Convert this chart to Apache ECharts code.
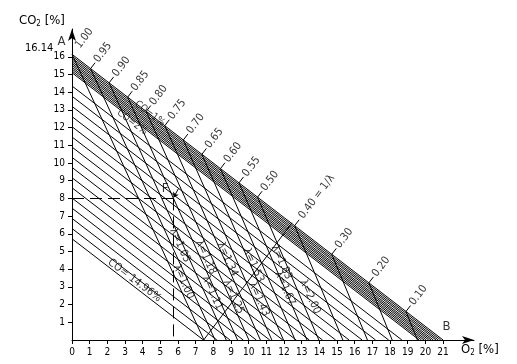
<!DOCTYPE html>
<html><head><meta charset="utf-8">
<script src="https://cdn.jsdelivr.net/npm/echarts@6/dist/echarts.min.js"></script>
<style>html,body{margin:0;padding:0;background:#fff}#c{width:517px;height:364px}</style>
</head><body><div id="c"></div>
<script>
// ---- data ----
const xTickValues = [0,1,2,3,4,5,6,7,8,9,10,11,12,13,14,15,16,17,18,19,20,21];
const yTickValues = [1,2,3,4,5,6,7,8,9,10,11,12,13,14,15,16];
const pointA = [0, 16.14];
const pointB = [21, 0];
// 1/lambda marks on line A-B
const invLambdaText = ['1.00','0.95','0.90','0.85','0.80','0.75','0.70','0.65','0.60','0.55','0.50','0.40 = 1/λ','0.30','0.20','0.10'];
const lamTopO2  = [0, 1.05, 2.10, 3.15, 4.20, 5.25, 6.30, 7.35, 8.40, 9.45, 10.50, 12.60, 14.70, 16.80, 18.90];
const lamTopCO2 = [16.14, 15.33, 14.53, 13.72, 12.91, 12.11, 11.30, 10.49, 9.68, 8.88, 8.07, 6.46, 4.84, 3.23, 1.61];
const lamBotO2  = [7.47, 8.10, 8.73, 9.37, 10.01, 10.66, 11.31, 11.97, 12.63, 13.30, 13.97, 15.33, 16.72, 18.12, 19.55];
// CO lines (parallel to A-B): intercepts on CO2 axis and O2 axis
const coY0 = [14.35,13.77,13.20,12.62,12.05,11.47,10.90,10.32,9.75,9.17,8.60,8.02,7.45,6.87,6.30,5.72];
const coX0 = [18.67,17.92,17.18,16.42,15.68,14.92,14.18,13.43,12.69,11.93,11.19,10.43,9.69,8.94,8.20,7.44];
// dense band just under A-B
const bandY0 = [16.04,15.93,15.83,15.72,15.62,15.52,15.41,15.31,15.20,15.10];
const bandX0 = [20.87,20.73,20.60,20.45,20.32,20.19,20.05,19.92,19.78,19.65];
// extra line crossing the lambda lines
const crossLine = [[7.45, 0], [12.45, 6.62]];
// example point F
const pointF = [5.72, 8];
// lambda labels
const lambdaText = ['λ=1.05','λ=1.00','λ=1.18','λ=1.11','λ=1.34','λ=1.25','λ=1.53','λ=1.43','λ=1.83','λ=1.67','λ=2.00'];
const lambdaLabelPos = [[6.11,5.35],[6.31,3.29],[7.58,4.67],[7.95,2.67],[8.80,4.56],[9.14,2.44],[10.27,4.22],[10.58,2.30],[11.86,4.39],[12.05,2.92],[13.47,2.44]];
const coLabelText = ['CO= 14.96%','CO=1%','CO=2%'];
const coLabelPos = [[3.54, 3.37],[4.40, 12.80],[3.40, 12.30]];

// ---- build ----
const segs = [];
segs.push({coords:[pointA, pointB]});
for (let i=0;i<coY0.length;i++) segs.push({coords:[[0,coY0[i]],[coX0[i],0]]});
for (let i=0;i<bandY0.length;i++) segs.push({coords:[[0,bandY0[i]],[bandX0[i],0]]});
for (let i=0;i<lamTopO2.length;i++) segs.push({coords:[[lamTopO2[i],lamTopCO2[i]],[lamBotO2[i],0]]});
segs.push({coords:crossLine});

const nx = 0.609, ny = 0.793;
const tickSegs = [];
const invLabels = [];
for (let i=0;i<lamTopO2.length;i++){
  const px = lamTopO2[i], py = lamTopCO2[i];
  if (i>0) tickSegs.push({coords:[[px,py],[px+nx*0.42,py+ny*0.42]]});
  const d = invLambdaText[i].length>5 ? 2.05 : 1.15;
  invLabels.push({name:invLambdaText[i], value:[px+nx*d, py+ny*d]});
}

const font = 'DejaVu Sans Condensed';
const chart = echarts.init(document.getElementById('c'), null, {renderer:'canvas'});
chart.setOption({
  animation:false,
  backgroundColor:'#fff',
  grid:{left:72, right:43, top:29, bottom:24},
  xAxis:{type:'value', min:0, max:22.75, interval:1,
    axisLine:{show:true, lineStyle:{color:'#000', width:1}, symbol:['none','arrow'], symbolSize:[6,12]},
    axisTick:{show:true, length:4, lineStyle:{color:'#000'}, customValues:xTickValues},
    axisLabel:{color:'#000', fontFamily:font, fontSize:10, margin:7, customValues:xTickValues},
    splitLine:{show:false}},
  yAxis:{type:'value', min:0, max:17.57, interval:1,
    axisLine:{show:true, lineStyle:{color:'#000', width:1}, symbol:['none','arrow'], symbolSize:[6,12]},
    axisTick:{show:true, length:4, lineStyle:{color:'#000'}, customValues:yTickValues},
    axisLabel:{color:'#000', fontFamily:font, fontSize:10, margin:7, customValues:yTickValues},
    splitLine:{show:false}},
  series:[
    {type:'lines', coordinateSystem:'cartesian2d', silent:true, z:2,
     lineStyle:{color:'#000', width:1, opacity:1}, data:segs},
    {type:'lines', coordinateSystem:'cartesian2d', silent:true, z:2,
     lineStyle:{color:'#000', width:1, opacity:1}, data:tickSegs},
    {type:'lines', coordinateSystem:'cartesian2d', silent:true, z:2,
     lineStyle:{color:'#000', width:1, type:[12,6], opacity:1},
     data:[{coords:[[0,pointF[1]],pointF]},{coords:[pointF,[pointF[0],0]]}]},
    {type:'lines', coordinateSystem:'cartesian2d', silent:true, z:2,
     symbol:['none','arrow'], symbolSize:5,
     lineStyle:{color:'#000', width:1, opacity:1},
     data:[{coords:[[pointF[0]+0.3, pointF[1]+0.55],[pointF[0]+0.03, pointF[1]+0.05]]}]},
    {type:'scatter', symbolSize:0, clip:false, silent:true, z:3,
     label:{show:true, position:'inside', rotate:52.8, color:'#000', fontFamily:font, fontSize:11, formatter:p=>p.name},
     data:invLabels},
    {type:'scatter', symbolSize:0, clip:false, silent:true, z:3,
     label:{show:true, position:'inside', rotate:-66, color:'#000', fontFamily:font, fontSize:11, formatter:p=>p.name},
     data:lambdaText.map((t,i)=>({name:t, value:lambdaLabelPos[i]}))},
    {type:'scatter', symbolSize:0, clip:false, silent:true, z:3,
     label:{show:true, position:'inside', rotate:-37, color:'#000', fontFamily:font, fontSize:11, formatter:p=>p.name},
     data:[{name:coLabelText[0], value:coLabelPos[0]}]},
    {type:'scatter', symbolSize:0, clip:false, silent:true, z:3,
     label:{show:true, position:'inside', rotate:-37, color:'#000', fontFamily:font, fontSize:10, formatter:p=>p.name},
     data:[{name:coLabelText[1], value:coLabelPos[1]},{name:coLabelText[2], value:coLabelPos[2]}]},
    {type:'scatter', symbolSize:0, clip:false, silent:true, z:3,
     label:{show:true, position:'inside', color:'#000', fontFamily:font, fontSize:13, formatter:p=>p.name},
     data:[{name:'F', value:[pointF[0]-0.45, pointF[1]+0.55]},
           {name:'A', value:[pointA[0]-0.6, pointA[1]+0.7]},
           {name:'B', value:[pointB[0]+0.2, pointB[1]+0.75]}]}
  ],
  graphic:[
    {type:'text', left:19, top:14, style:{text:'{a|CO}{s|2}{a| [%]}', rich:{a:{fontFamily:font,fontSize:13,fill:'#000'}, s:{fontFamily:font,fontSize:8,fill:'#000', padding:[6,0,0,0]}}}},
    {type:'text', left:25, top:43, style:{text:'16.14', fontFamily:font, fontSize:11, fill:'#000'}},
    {type:'text', left:461, top:343, style:{text:'{a|O}{s|2}{a| [%]}', rich:{a:{fontFamily:font,fontSize:13,fill:'#000'}, s:{fontFamily:font,fontSize:8,fill:'#000', padding:[6,0,0,0]}}}}
  ]
});
</script></body></html>
